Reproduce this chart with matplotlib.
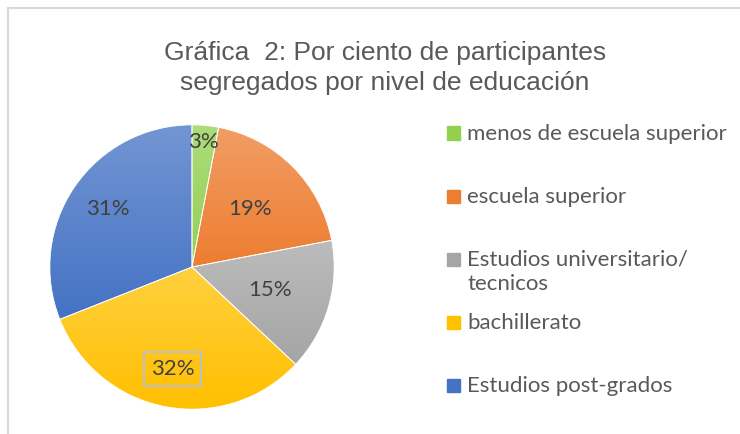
import matplotlib.pyplot as plt
import matplotlib.colors as mcolors
from matplotlib.patches import Rectangle
import numpy as np

title = "Gráfica  2: Por ciento de participantes\nsegregados por nivel de educación"
labels = ["menos de escuela superior", "escuela superior",
          "Estudios universitario/\ntecnicos", "bachillerato", "Estudios post-grados"]
values = [3, 19, 15, 32, 31]
colors = ["#92D050", "#ED7D31", "#A5A5A5", "#FFC000", "#4472C4"]
# distance of each percent label from the centre (Excel "best fit")
label_dist = [0.88, 0.58, 0.57, 0.73, 0.72]

text_color = "#595959"
legend_font = ["Lato", "DejaVu Sans"]

fig = plt.figure(figsize=(7.4, 4.34), dpi=100)
fig.patch.set_facecolor("white")

# chart frame (only top and left edges fall inside the picture)
frame = Rectangle((8 / 740, -0.05), 1.0, 1 - 8 / 434 + 0.05, transform=fig.transFigure,
                  fill=False, edgecolor="#D9D9D9", lw=1.5)
fig.patches.append(frame)

fig.text(385 / 740, 1 - 68 / 434, title, ha="center", va="center",
         fontsize=19, color=text_color, family="Liberation Sans", linespacing=1.3)

ax = fig.add_axes([47 / 740, (434 - 267 - 145) / 434, 290 / 740, 290 / 434])
wedges, _ = ax.pie(values, colors=colors, startangle=90, counterclock=False,
                   wedgeprops=dict(edgecolor="white", linewidth=0.6))
ax.set_xlim(-1.02, 1.02)
ax.set_ylim(-1.02, 1.02)
ax.set_aspect("equal")

# vertical gradient in each slice, lighter on top
renderer = fig.canvas.get_renderer()
for w, c in zip(wedges, colors):
    base = np.array(mcolors.to_rgb(c))
    light = base + (1 - base) * 0.25
    grad = np.linspace(0, 1, 256)[:, None, None]
    img = light * (1 - grad) + base * grad
    bb = w.get_window_extent(renderer).transformed(ax.transData.inverted())
    im = ax.imshow(img, extent=[bb.x0, bb.x1, bb.y0, bb.y1], aspect="auto", zorder=1)
    im.set_clip_path(w)
    w.set_facecolor("none")
    w.set_zorder(2)

ax.set_xlim(-1.02, 1.02)
ax.set_ylim(-1.02, 1.02)
ax.set_aspect("equal")
ax.axis("off")

for w, v, d in zip(wedges, values, label_dist):
    ang = np.deg2rad((w.theta1 + w.theta2) / 2)
    x, y = d * np.cos(ang), d * np.sin(ang)
    box = None
    if v == 32:
        box = dict(boxstyle="square,pad=0.3", fc="none", ec="#BFBFBF", lw=1.5)
    ax.text(x, y, f"{v}%", ha="center", va="center", fontsize=16,
            color="#404040", family=legend_font, bbox=box, zorder=5)

# legend, drawn by hand: marker + text, one slot per entry
for i, (lab, c) in enumerate(zip(labels, colors)):
    ymid = 1 - (133 + 63 * i) / 434
    fig.patches.append(Rectangle((447 / 740, ymid - 6.5 / 434), 13 / 740, 13 / 434,
                                 transform=fig.transFigure, color=c))
    fig.text(467 / 740, ymid + 9 / 434, lab, ha="left", va="top", fontsize=16,
             color=text_color, family=legend_font, linespacing=1.25)

fig.savefig("out.png", dpi=100)
